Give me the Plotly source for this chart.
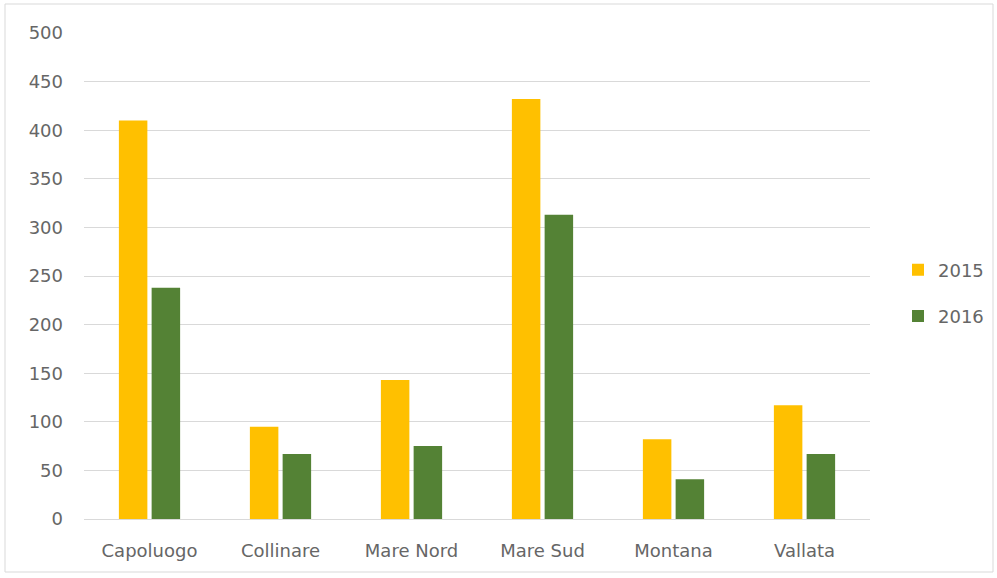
import plotly.graph_objects as go

categories = ["Capoluogo", "Collinare", "Mare Nord", "Mare Sud", "Montana", "Vallata"]
values_2015 = [410, 95, 143, 432, 82, 117]
values_2016 = [238, 67, 75, 313, 41, 67]
series_names = ["2015", "2016"]
y_ticks = [0, 50, 100, 150, 200, 250, 300, 350, 400, 450, 500]

W, H = 997, 578
L, R, T, B = 84, 127, 33, 59
pw = W - L - R
ph = H - T - B

font_family = "'DejaVu Sans', sans-serif"
text_color = "#666666"

fig = go.Figure()
fig.add_trace(go.Bar(x=categories, y=values_2015, name=series_names[0],
                     marker=dict(color="#FFC000", line=dict(width=0)),
                     legendgroup="a"))
fig.add_trace(go.Bar(x=categories, y=values_2016, name=series_names[1],
                     marker=dict(color="#548235", line=dict(width=0)),
                     legendgroup="b"))

fig.update_layout(
    width=W, height=H,
    margin=dict(l=L, r=R, t=T, b=B, autoexpand=False),
    paper_bgcolor="white", plot_bgcolor="white",
    barmode="group", bargap=0.5, bargroupgap=0.13,
    font=dict(family=font_family, size=18, color=text_color),
    legend=dict(x=(898 - L) / pw, y=(H - B - 293) / ph, xanchor="left", yanchor="middle",
                font=dict(size=18, color=text_color), traceorder="grouped",
                tracegroupgap=20, bgcolor="rgba(0,0,0,0)", itemwidth=30),
    showlegend=True,
)
fig.update_xaxes(showgrid=False, showline=True, linecolor="#d9d9d9", linewidth=1,
                 automargin=False,
                 ticks="", ticklabelstandoff=15, tickfont=dict(size=18, color=text_color))
fig.update_yaxes(range=[0, 500], tickvals=y_ticks, showgrid=True, gridcolor="#d9d9d9",
                 gridwidth=1, zeroline=False, showline=False, ticks="", automargin=False,
                 ticklabelstandoff=20, tickfont=dict(size=18, color=text_color))

# outer chart border
fig.add_shape(type="rect", xref="paper", yref="paper",
              x0=(5 - L) / pw, x1=(993 - L) / pw,
              y0=(H - B - 572) / ph, y1=(H - B - 4) / ph,
              line=dict(color="#d9d9d9", width=1), fillcolor="rgba(0,0,0,0)", layer="below")

fig.write_html("out.html", config={"displayModeBar": False},
               post_script="document.body.style.margin='0px';document.documentElement.style.overflow='hidden';")
